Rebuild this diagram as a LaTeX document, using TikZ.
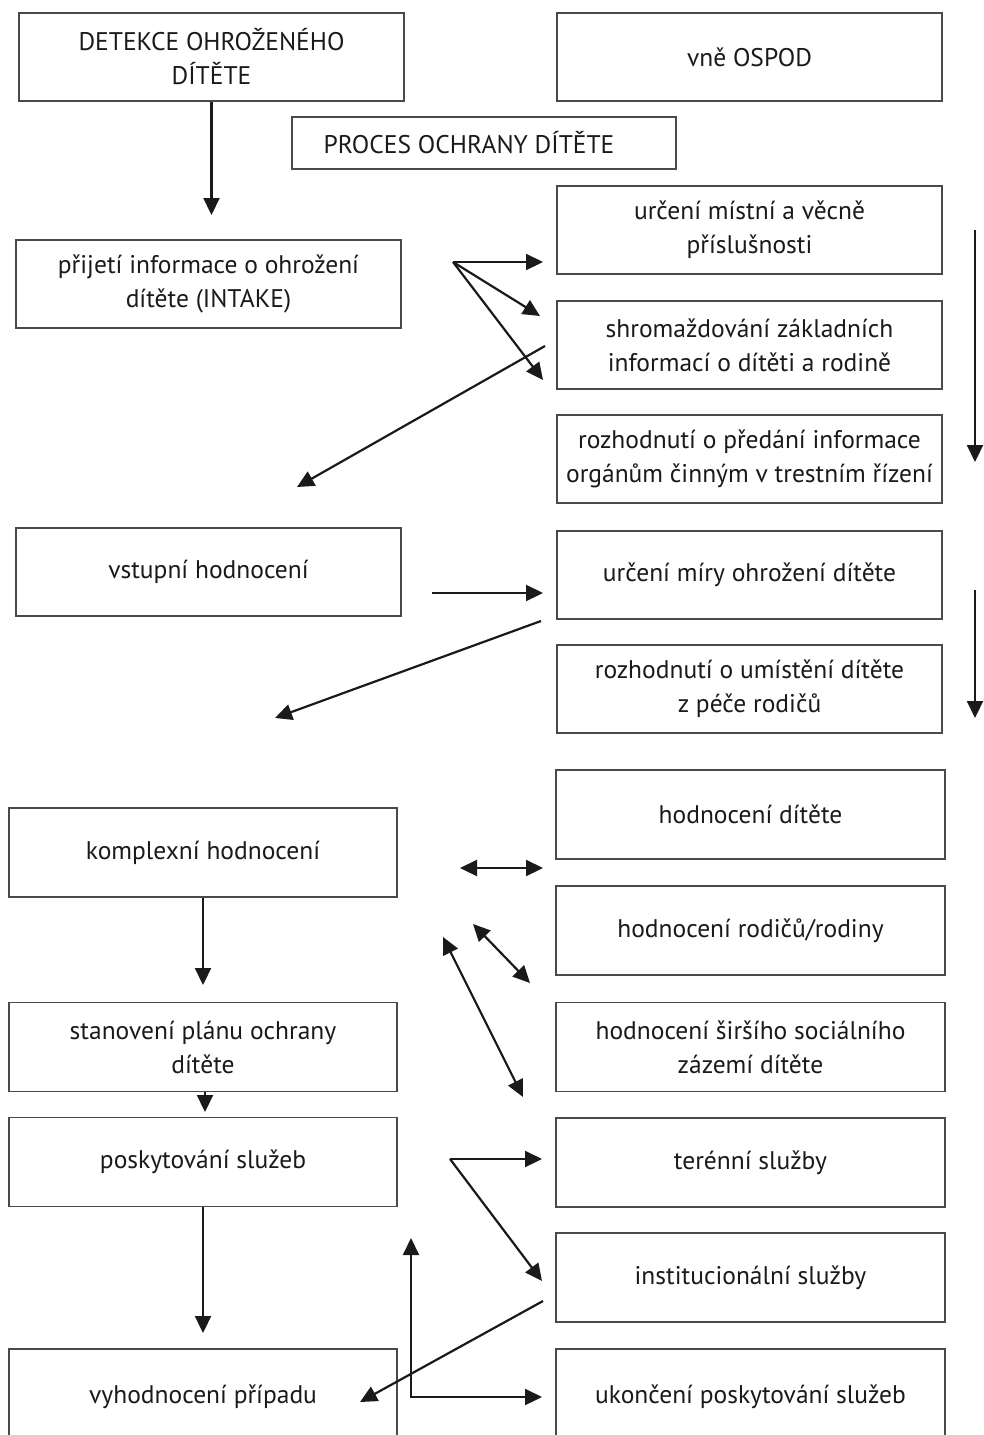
\documentclass[tikz,border=0pt]{standalone}
\usepackage{fontspec}
\setmainfont{PT Sans}
\usetikzlibrary{arrows.meta,calc}
\definecolor{boxline}{HTML}{4A4A4A}
\definecolor{ink}{HTML}{1A1A1A}
\begin{document}
\begin{tikzpicture}[x=1pt,y=-1pt,
  box/.style={draw=boxline, line width=1.7pt, align=center, inner sep=0pt,
    text=ink, font=\fontsize{25.5}{34}\selectfont},
  rbox/.style={box, minimum width=385pt, minimum height=88pt},
  lbox/.style={box, minimum width=385pt, minimum height=88pt},
  rbox2/.style={box, minimum width=389pt, minimum height=89pt},
  lbox2/.style={box, minimum width=388pt, minimum height=89pt},
  arr/.style={draw=ink, line width=2.2pt, -{Triangle[length=17pt,width=16pt]}},
  darr/.style={draw=ink, line width=2.2pt, {Triangle[length=17pt,width=16pt]}-{Triangle[length=17pt,width=16pt]}},
  ln/.style={draw=ink, line width=2.2pt}]
\useasboundingbox (0,0) rectangle (983,1435);
\fill[white] (0,0) rectangle (983,1435);

% nodes
\node[lbox] (det) at (211.5,57) {DETEKCE OHROŽENÉHO\\DÍTĚTE};
\node[rbox] (out) at (749.5,57) {vně OSPOD};
\node[box, minimum width=384pt, minimum height=52pt] (proc) at (484,143) {PROCES OCHRANY DÍTĚTE\hspace{30pt}};
\node[rbox] (urc) at (749.5,230) {určení místní a věcně\\příslušnosti};
\node[lbox] (prij) at (208.5,284) {přijetí informace o ohrožení\\dítěte (INTAKE)};
\node[rbox] (shrom) at (749.5,345) {shromaždování základních\\informací o dítěti a rodině};
\node[rbox] (rozh1) at (749.5,459) {rozhodnutí o předání informace\\orgánům činným v trestním řízení};
\node[lbox] (vst) at (208.5,572) {vstupní hodnocení};
\node[rbox] (mira) at (749.5,575) {určení míry ohrožení dítěte};
\node[rbox] (rozh2) at (749.5,689) {rozhodnutí o umístění dítěte\\z péče rodičů};
\node[rbox2] (hdit) at (750.5,814.5) {hodnocení dítěte};
\node[lbox2] (kompl) at (203,852.5) {komplexní hodnocení};
\node[rbox2] (hrod) at (750.5,930.5) {hodnocení rodičů/rodiny};
\node[lbox2] (stan) at (203,1047) {stanovení plánu ochrany\\dítěte};
\node[rbox2] (hsir) at (750.5,1047) {hodnocení širšího sociálního\\zázemí dítěte};
\node[lbox2] (posk) at (203,1162) {poskytování služeb};
\node[rbox2] (teren) at (750.5,1162.5) {terénní služby};
\node[rbox2] (inst) at (750.5,1277.5) {institucionální služby};
\node[box, minimum width=388pt, minimum height=96pt] (vyh) at (203,1397) {vyhodnocení případu};
\node[box, minimum width=389pt, minimum height=96pt] (ukon) at (750.5,1397) {ukončení poskytování služeb};

% connector coordinates
\coordinate (a1) at (209,215);
\coordinate (s1) at (453,262);
\coordinate (t1) at (543,262);
\coordinate (t2) at (540,316);
\coordinate (t3) at (543,380);
\coordinate (b1) at (545,346);
\coordinate (b2) at (297,487);
\coordinate (r1s) at (975,230);
\coordinate (r1e) at (975,462);
\coordinate (r2s) at (975,590);
\coordinate (r2e) at (975,718);
\coordinate (v1) at (432,593);
\coordinate (v2) at (543,593);
\coordinate (c1) at (541,621);
\coordinate (c2) at (275,718);
\coordinate (k1) at (203,985);
\coordinate (d1a) at (460,868);
\coordinate (d1b) at (543,868);
\coordinate (d2a) at (473,924);
\coordinate (d2b) at (530,983);
\coordinate (d3a) at (443,937);
\coordinate (d3b) at (523,1097);
\coordinate (p1) at (205,1112);
\coordinate (p2) at (203,1333);
\coordinate (s2) at (450,1159);
\coordinate (u1) at (542,1159);
\coordinate (u2) at (542,1281);
\coordinate (e1) at (543,1301);
\coordinate (e2) at (360,1402);
\coordinate (g1) at (411,1238);
\coordinate (g2) at (411,1397);
\coordinate (g3) at (542,1397);

% connectors
\draw[arr] (det.south) -- (det.south |- a1);
\draw[arr] (s1) -- (t1);
\draw[arr] (s1) -- (t2);
\draw[arr] (s1) -- (t3);
\draw[arr] (b1) -- (b2);
\draw[arr] (r1s) -- (r1e);
\draw[arr] (r2s) -- (r2e);
\draw[arr] (v1) -- (v2);
\draw[arr] (c1) -- (c2);
\draw[arr] (kompl.south) -- (kompl.south |- k1);
\draw[darr] (d1a) -- (d1b);
\draw[darr] (d2a) -- (d2b);
\draw[darr] (d3a) -- (d3b);
\draw[arr] ([xshift=2pt]stan.south) -- ([xshift=2pt]stan.south |- p1);
\draw[arr] (posk.south) -- (posk.south |- p2);
\draw[arr] (s2) -- (u1);
\draw[arr] (s2) -- (u2);
\draw[arr] (e1) -- (e2);
\draw[darr] (g1) -- (g2) -- (g3);
\end{tikzpicture}
\end{document}
